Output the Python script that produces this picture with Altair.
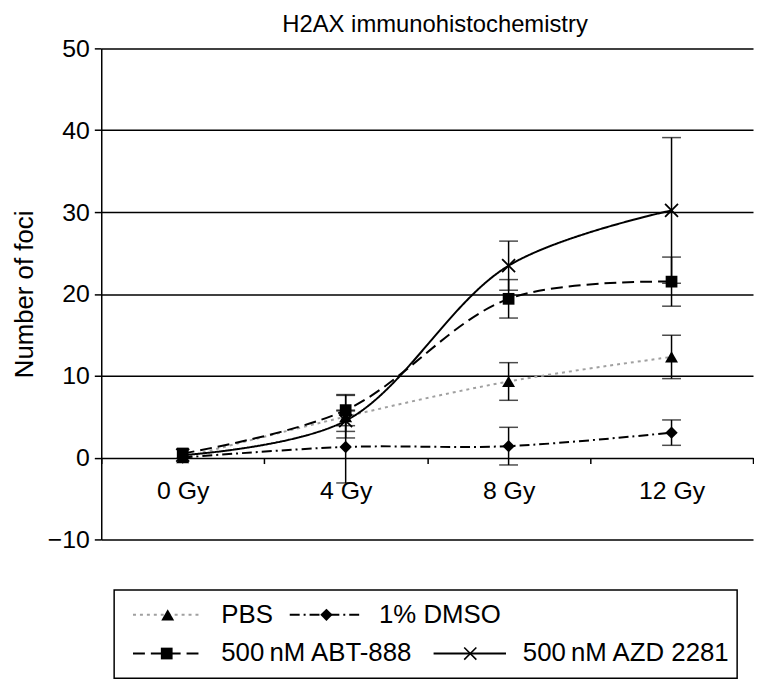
import altair as alt
import pandas as pd

FONT = "Liberation Sans"

# ---- data ----
doses = ["0 Gy", "4 Gy", "8 Gy", "12 Gy"]
series_names = ["PBS", "1% DMSO", "500\u2009nM ABT-888", "500\u2009nM AZD 2281"]

pbs_mean = [0.0, 5.0, 9.3, 12.3]
pbs_err = [0.0, 2.6, 2.3, 2.65]
dmso_mean = [0.0, 1.3, 1.4, 3.05]
dmso_err = [0.0, 4.4, 2.3, 1.55]
abt_mean = [0.5, 5.8, 19.4, 21.5]
abt_err = [0.0, 1.9, 2.35, 3.0]
azd_mean = [0.3, 4.5, 23.45, 30.2]
azd_err = [0.0, 1.3, 3.0, 8.9]

y_ticks = [-10, 0, 10, 20, 30, 40, 50]

means = [pbs_mean, dmso_mean, abt_mean, azd_mean]
errs = [pbs_err, dmso_err, abt_err, azd_err]

rows = []
for name, m, e in zip(series_names, means, errs):
    for d, mv, ev in zip(doses, m, e):
        rows.append({"dose": d, "series": name, "mean": mv, "lo": mv - ev, "hi": mv + ev, "err": ev})
df = pd.DataFrame(rows)
err_df = df[df["err"] > 0]

# ---- styles ----
colors = ["#a0a0a0", "black", "black", "black"]
dashes = [[3, 4], [10, 4, 2, 4], [12, 6], [1, 0]]
shapes = ["triangle-up", "diamond", "square", "M-1,-1L1,1M-1,1L1,-1"]

color_scale = alt.Scale(domain=series_names, range=colors)
dash_scale = alt.Scale(domain=series_names, range=dashes)
shape_scale = alt.Scale(domain=series_names[:3], range=shapes[:3])
size_scale = alt.Scale(domain=series_names[:3], range=[170, 140, 150])

LBL = 25

x_enc = alt.X(
    "dose:N",
    sort=doses,
    scale=alt.Scale(type="band", domain=doses, paddingInner=0, paddingOuter=0),
    axis=alt.Axis(
        title=None, orient="bottom", offset=-82.5, domain=False, tickBand="extent",
        tickSize=6, tickColor="black", tickWidth=1.5, labelFontSize=LBL,
        labelColor="black", labelPadding=15, labelAngle=0, grid=False, labelFont=FONT,
    ),
)
y_scale = alt.Scale(domain=[-10, 50], nice=False, zero=False)
y_axis = alt.Axis(
    values=y_ticks, grid=True, gridColor="black", gridOpacity=1, gridWidth=1.5,
    domainColor="black", domainWidth=1.5, tickColor="black", tickSize=7, tickWidth=1.5,
    labelFontSize=LBL, labelColor="black", labelPadding=5, labelFont=FONT,
    title="Number of foci", titleFontSize=26, titleFontWeight="normal", titleFont=FONT,
    titleColor="black", titlePadding=10,
)

base = alt.Chart(df)

lines = base.mark_line(interpolate="catmull-rom", strokeWidth=2).encode(
    x=x_enc,
    y=alt.Y("mean:Q", scale=y_scale, axis=y_axis),
    color=alt.Color("series:N", scale=color_scale, legend=None),
    strokeDash=alt.StrokeDash("series:N", scale=dash_scale, legend=None),
    detail="series:N",
)

ebase = alt.Chart(err_df)
err_rule = ebase.mark_rule(color="black", strokeWidth=1.5).encode(
    x=alt.X("dose:N", sort=doses), y="lo:Q", y2="hi:Q"
)
err_lo = ebase.mark_tick(color="black", size=19, thickness=1.5, orient="horizontal").encode(
    x=alt.X("dose:N", sort=doses), y="lo:Q"
)
err_hi = ebase.mark_tick(color="black", size=19, thickness=1.5, orient="horizontal").encode(
    x=alt.X("dose:N", sort=doses), y="hi:Q"
)

filled_pts = base.transform_filter(
    alt.FieldOneOfPredicate(field="series", oneOf=series_names[:3])
).mark_point(filled=True, opacity=1, color="black").encode(
    x=alt.X("dose:N", sort=doses),
    y="mean:Q",
    shape=alt.Shape("series:N", scale=shape_scale, legend=None),
    size=alt.Size("series:N", scale=size_scale, legend=None),
)
x_pts = base.transform_filter(
    alt.FieldEqualPredicate(field="series", equal=series_names[3])
).mark_point(shape=shapes[3], filled=False, size=170, strokeWidth=1.8, color="black", opacity=1).encode(
    x=alt.X("dose:N", sort=doses),
    y="mean:Q",
)

main = alt.layer(lines, err_rule, err_lo, err_hi, filled_pts, x_pts)

# ---- legend (layout positions in plot pixels) ----
leg_row_y = [571, 571, 610, 610]
leg_line_x0 = [32, 190, 32, 335]
leg_line_x1 = [102, 263, 103, 408]
leg_mark_x = [67, 227, 66, 372]
leg_text_x = [121, 280, 121, 425]
leg_df = pd.DataFrame({
    "series": series_names, "ly": leg_row_y, "lx0": leg_line_x0, "lx1": leg_line_x1,
    "mx": leg_mark_x, "tx": leg_text_x,
})
box_df = pd.DataFrame({"bx0": [13], "bx1": [641], "by0": [546], "by1": [635]})

box = alt.Chart(box_df).mark_rect(fillOpacity=0, stroke="black", strokeWidth=1.5).encode(
    x=alt.X("bx0:Q", scale=None, axis=None), x2="bx1:Q",
    y=alt.Y("by0:Q", scale=None, axis=None), y2="by1:Q",
)
lb = alt.Chart(leg_df)
leg_lines = lb.mark_rule(strokeWidth=2).encode(
    x=alt.X("lx0:Q", scale=None, axis=None), x2="lx1:Q",
    y=alt.Y("ly:Q", scale=None, axis=None),
    color=alt.Color("series:N", scale=color_scale, legend=None),
    strokeDash=alt.StrokeDash("series:N", scale=dash_scale, legend=None),
)
leg_filled = lb.transform_filter(
    alt.FieldOneOfPredicate(field="series", oneOf=series_names[:3])
).mark_point(filled=True, opacity=1, color="black").encode(
    x=alt.X("mx:Q", scale=None, axis=None),
    y=alt.Y("ly:Q", scale=None, axis=None),
    shape=alt.Shape("series:N", scale=shape_scale, legend=None),
    size=alt.Size("series:N", scale=size_scale, legend=None),
)
leg_x = lb.transform_filter(
    alt.FieldEqualPredicate(field="series", equal=series_names[3])
).mark_point(shape=shapes[3], filled=False, size=150, strokeWidth=1.6, color="black", opacity=1).encode(
    x=alt.X("mx:Q", scale=None, axis=None),
    y=alt.Y("ly:Q", scale=None, axis=None),
)
leg_text = lb.mark_text(align="left", baseline="middle", fontSize=26, font=FONT, color="black").encode(
    x=alt.X("tx:Q", scale=None, axis=None),
    y=alt.Y("ly:Q", scale=None, axis=None),
    text="series:N",
)
legend = alt.layer(box, leg_lines, leg_filled, leg_x, leg_text)

chart = alt.layer(main, legend).resolve_scale(x="independent", y="independent").properties(
    width=657,
    height=495,
    title=alt.TitleParams(
        "H2AX immunohistochemistry", fontSize=24, fontWeight="normal", font=FONT,
        color="black", anchor="middle", offset=0, dx=8,
    ),
    padding={"left": 3, "top": 2, "right": 0, "bottom": 0},
).configure_view(stroke=None)

chart.save("out.html", embed_options={"renderer": "svg", "actions": False})
